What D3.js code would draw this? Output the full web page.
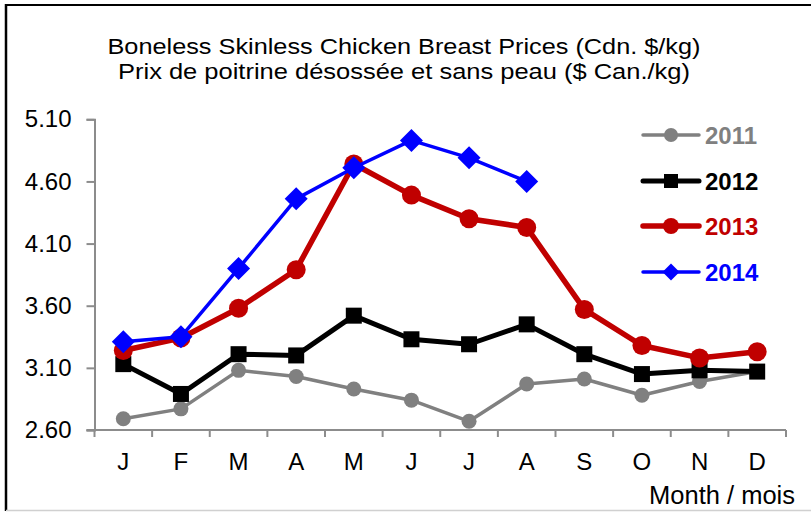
<!DOCTYPE html>
<html>
<head>
<meta charset="utf-8">
<script src="https://cdn.jsdelivr.net/npm/d3@7"></script>
<style>
  body { margin: 0; background: #fff; }
  svg { display: block; font-family: "Liberation Sans", Arial, sans-serif; }
</style>
</head>
<body>
<div id="chart"></div>
<script>
//Chart data
const MONTHS = ["J", "F", "M", "A", "M", "J", "J", "A", "S", "O", "N", "D"];
const Y_TICKS = [2.60, 3.10, 3.60, 4.10, 4.60, 5.10];
const YEARS = ["2011", "2012", "2013", "2014"];

const prices2011 = [2.69, 2.77, 3.08, 3.03, 2.93, 2.84, 2.67, 2.97, 3.01, 2.88, 2.99, 3.07];
const prices2012 = [3.13, 2.89, 3.21, 3.20, 3.52, 3.33, 3.29, 3.45, 3.21, 3.05, 3.08, 3.07];
const prices2013 = [3.24, 3.34, 3.58, 3.89, 4.74, 4.49, 4.30, 4.23, 3.57, 3.28, 3.18, 3.23];
const prices2014 = [3.31, 3.35, 3.90, 4.46, 4.71, 4.93, 4.79, 4.60];

const TITLE_EN = "Boneless Skinless Chicken Breast Prices (Cdn. $/kg)";
const TITLE_FR = "Prix de poitrine désossée et sans peau ($ Can./kg)";
const X_LABEL = "Month / mois";

//Style per series
const seriesStyle = [
  {color: "#808080", width: 3.5, marker: "circle", size: 7.5, legSize: 7},
  {color: "#000000", width: 5, marker: "square", size: 8, legSize: 7},
  {color: "#c00000", width: 5.5, marker: "circle", size: 9.5, legSize: 8},
  {color: "#0000ff", width: 3.5, marker: "diamond", size: 11.5, legSize: 8.5}
];
const seriesData = [prices2011, prices2012, prices2013, prices2014];

const width = 811;
const height = 512;

const svg = d3.select("#chart").append("svg")
  .attr("width", width)
  .attr("height", height);

//Frame
svg.append("line").attr("x1", 6).attr("x2", 811).attr("y1", 5).attr("y2", 5)
  .attr("stroke", "#000").attr("stroke-width", 2);
svg.append("line").attr("x1", 6).attr("x2", 6).attr("y1", 4).attr("y2", 511)
  .attr("stroke", "#000").attr("stroke-width", 2.5);
svg.append("line").attr("x1", 6).attr("x2", 811).attr("y1", 510.5).attr("y2", 510.5)
  .attr("stroke", "#d0d0d0").attr("stroke-width", 1.5);

//Title
function titleLine(txt, y, len) {
  svg.append("text")
    .attr("x", 404).attr("y", y)
    .attr("text-anchor", "middle")
    .attr("font-size", 22)
    .attr("textLength", len)
    .attr("lengthAdjust", "spacingAndGlyphs")
    .attr("fill", "#000")
    .text(txt);
}
titleLine(TITLE_EN, 54, 593);
titleLine(TITLE_FR, 79, 572);

//Scales
const x = d3.scaleBand()
  .domain(d3.range(MONTHS.length))
  .range([94.5, 786])
  .padding(0);

const y = d3.scaleLinear()
  .domain([2.6, 5.1])
  .range([430, 119.3]);

const cx = i => x(i) + x.bandwidth() / 2;

//Y axis
const yAxis = svg.append("g")
  .attr("transform", "translate(94.5,0)")
  .call(d3.axisLeft(y).tickValues(Y_TICKS).tickFormat(d3.format(".2f")).tickSize(8).tickPadding(15));
yAxis.select(".domain").attr("stroke", "#8c8c8c").attr("stroke-width", 2);
yAxis.selectAll(".tick line").attr("stroke", "#8c8c8c").attr("stroke-width", 2);
yAxis.selectAll(".tick text")
  .attr("font-size", 24).attr("fill", "#000")
  .attr("font-family", "Liberation Sans, Arial, sans-serif");

//X axis
const xAxis = svg.append("g")
  .attr("transform", "translate(0,430)")
  .call(d3.axisBottom(x).tickFormat(i => MONTHS[i]).tickSize(0).tickPadding(23).tickSizeOuter(0));
xAxis.select(".domain").remove();
xAxis.selectAll(".tick text")
  .attr("font-size", 24).attr("fill", "#000")
  .attr("font-family", "Liberation Sans, Arial, sans-serif");

svg.append("line")
  .attr("x1", 86.5).attr("x2", 786).attr("y1", 430).attr("y2", 430)
  .attr("stroke", "#8c8c8c").attr("stroke-width", 2);

//Tick marks between categories
svg.selectAll(".xtick")
  .data(d3.range(MONTHS.length + 1))
  .enter().append("line")
  .attr("class", "xtick")
  .attr("x1", i => 94.5 + i * x.step())
  .attr("x2", i => 94.5 + i * x.step())
  .attr("y1", 430).attr("y2", 437)
  .attr("stroke", "#8c8c8c").attr("stroke-width", 2);

svg.append("text")
  .attr("x", 795).attr("y", 504)
  .attr("text-anchor", "end")
  .attr("font-size", 25.5)
  .attr("fill", "#000")
  .text(X_LABEL);

//Marker drawing
function drawMarker(g, type, px, py, s, color) {
  if (type === "circle") {
    g.append("circle").attr("cx", px).attr("cy", py).attr("r", s).attr("fill", color);
  } else if (type === "square") {
    g.append("rect").attr("x", px - s).attr("y", py - s)
      .attr("width", 2 * s).attr("height", 2 * s).attr("fill", color);
  } else {
    g.append("path")
      .attr("d", "M" + px + "," + (py - s) + "L" + (px + s) + "," + py +
                 "L" + px + "," + (py + s) + "L" + (px - s) + "," + py + "Z")
      .attr("fill", color);
  }
}

//Series
const line = d3.line()
  .x((d, i) => cx(i))
  .y(d => y(d));

seriesData.forEach(function(vals, k) {
  const st = seriesStyle[k];
  const g = svg.append("g");
  g.append("path")
    .attr("d", line(vals))
    .attr("fill", "none")
    .attr("stroke", st.color)
    .attr("stroke-width", st.width)
    .attr("stroke-linejoin", "round");
  vals.forEach(function(v, i) {
    drawMarker(g, st.marker, cx(i), y(v), st.size, st.color);
  });
});

//Legend
const legY = [135, 181, 226, 272];
YEARS.forEach(function(yr, k) {
  const st = seriesStyle[k];
  const g = svg.append("g");
  g.append("line")
    .attr("x1", 643).attr("x2", 699)
    .attr("y1", legY[k]).attr("y2", legY[k])
    .attr("stroke", st.color).attr("stroke-width", st.width)
    .attr("stroke-linecap", "round");
  drawMarker(g, st.marker, 671, legY[k], st.legSize, st.color);
  g.append("text")
    .attr("x", 705).attr("y", legY[k])
    .attr("dy", "0.36em")
    .attr("font-size", 24)
    .attr("font-weight", "bold")
    .attr("fill", st.color)
    .text(yr);
});
</script>
</body>
</html>
